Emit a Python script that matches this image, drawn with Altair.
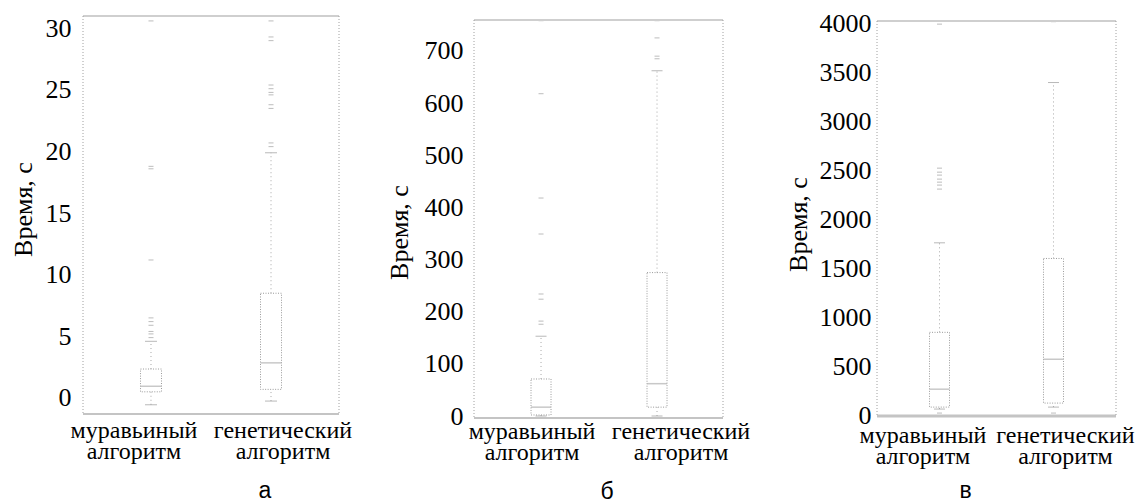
import altair as alt
import pandas as pd

SERIF = "Liberation Serif"
SANS = "Liberation Sans"

categories = ["муравьиный алгоритм", "генетический алгоритм"]

# panel а
a_low = [-0.55, -0.25]
a_q1 = [0.5, 0.7]
a_med = [0.95, 2.85]
a_q3 = [2.35, 8.5]
a_high = [4.6, 19.9]
a_out_ant = [4.9, 5.2, 5.4, 5.9, 6.2, 6.5, 11.2, 18.6, 18.8, 30.6]
a_out_gen = [20.4, 20.7, 23.5, 23.8, 24.6, 24.8, 25.1, 25.4, 29.0, 29.3, 30.6]
a_ticks = [0, 5, 10, 15, 20, 25, 30]

# panel б
b_low = [0, 0]
b_q1 = [2, 17]
b_med = [17, 62]
b_q3 = [71, 275]
b_high = [153, 662]
b_out_ant = [176, 182, 224, 234, 349, 418, 618, 758]
b_out_gen = [685, 690, 725, 758]
b_ticks = [0, 100, 200, 300, 400, 500, 600, 700]

# panel в
c_low = [61, 81]
c_q1 = [81, 122]
c_med = [264, 570]
c_q3 = [845, 1600]
c_high = [1760, 3398]
c_out_ant = [20, 2309, 2350, 2380, 2411, 2452, 2482, 2523, 3995]
c_out_gen = [20, 4020]
c_ticks = [0, 500, 1000, 1500, 2000, 2500, 3000, 3500, 4000]


def panel(low, q1, med, q3, high, out_ant, out_gen, ticks, domain, W, FW, H, ftop,
          pi, po, align, box_w, cap_w, label_off, label_pad, ylabel_pad, title_x, title_y,
          letter, letter_dx, letter_off, bottom_w):
    box_df = pd.DataFrame({"cat": categories, "low": low, "q1": q1, "med": med,
                           "q3": q3, "high": high})
    out_df = pd.DataFrame({"cat": [categories[0]] * len(out_ant) + [categories[1]] * len(out_gen),
                           "v": out_ant + out_gen})
    x = alt.X("cat:N", sort=categories,
              scale=alt.Scale(domain=categories, paddingInner=pi, paddingOuter=po, align=align),
              axis=alt.Axis(title=None, labelExpr="split(datum.label, ' ')",
                            labelFont=SERIF, labelFontSize=24, labelColor="black",
                            labelAngle=0, ticks=False, domain=False, grid=False,
                            labelPadding=label_pad, labelLineHeight=21,
                            labelOffset={"condition": {"test": f"datum.value === '{categories[0]}'",
                                                       "value": label_off[0]},
                                         "value": label_off[1]}))
    yscale = alt.Scale(domain=domain, nice=False, zero=False)
    yaxis = alt.Axis(values=ticks, title="Время, с", titleFont=SERIF, titleFontSize=26,
                     titleFontWeight="normal", titleColor="black", titleX=title_x,
                     titleY=title_y, titleAngle=270, titleAlign="center",
                     titleBaseline="middle", labelFont=SERIF, labelFontSize=26,
                     labelColor="black", labelPadding=ylabel_pad, ticks=False,
                     domain=False, grid=False, format="d")
    base = alt.Chart(box_df)
    box = base.mark_bar(fill="white", fillOpacity=0, stroke="#9a9a9a", strokeWidth=1,
                        strokeDash=[1, 1.5]).encode(
        x=x, y=alt.Y("q1:Q", scale=yscale, axis=yaxis), y2="q3:Q")
    wh_up = base.mark_rule(color="#a8a8a8", strokeDash=[1, 3]).encode(
        x="cat:N", y="q3:Q", y2="high:Q")
    wh_lo = base.mark_rule(color="#a8a8a8", strokeDash=[1, 3]).encode(
        x="cat:N", y="low:Q", y2="q1:Q")
    cap_hi = base.mark_tick(color="#9a9a9a", thickness=1, size=cap_w).encode(
        x="cat:N", y="high:Q")
    cap_lo = base.mark_tick(color="#9a9a9a", thickness=1, size=cap_w).encode(
        x="cat:N", y="low:Q")
    median = base.mark_tick(color="#b0b0b0", thickness=1.5, size=box_w).encode(
        x="cat:N", y="med:Q")
    outl = alt.Chart(out_df).mark_tick(color="#a0a0a0", thickness=1, size=5).encode(
        x="cat:N", y="v:Q")
    one = alt.Data(values=[{"k": 1}])
    f_top = alt.Chart(one).mark_rule(color="#cfcfcf", strokeWidth=2).encode(
        x=alt.value(0), x2=alt.value(FW), y=alt.value(ftop))
    f_bot = alt.Chart(one).mark_rule(color="#c4c4c4", strokeWidth=bottom_w).encode(
        x=alt.value(0), x2=alt.value(FW), y=alt.value(H))
    f_left = alt.Chart(one).mark_rule(color="#a0a0a0", strokeDash=[1, 2]).encode(
        x=alt.value(0), y=alt.value(ftop), y2=alt.value(H))
    f_right = alt.Chart(one).mark_rule(color="#a0a0a0", strokeDash=[1, 2]).encode(
        x=alt.value(FW), y=alt.value(ftop), y2=alt.value(H))
    return alt.layer(box, wh_up, wh_lo, cap_hi, cap_lo, median, outl,
                     f_top, f_bot, f_left, f_right).properties(
        width=W, height=H,
        title=alt.TitleParams(letter, orient="bottom", font=SANS, fontSize=23,
                              fontWeight="normal", color="black", anchor="middle",
                              dx=letter_dx, offset=letter_off))


pa = panel(a_low, a_q1, a_med, a_q3, a_high, a_out_ant, a_out_gen, a_ticks,
           [-1.3, 31.0], 256, 256, 398, 0, 0.825, 0.479, 0.5, 21, 12, (-17, 12), 4, 12,
           -60, 193, "а", 54, 17, 2)
pb = panel(b_low, b_q1, b_med, b_q3, b_high, b_out_ant, b_out_gen, b_ticks,
           [-3.8, 767], 268, 249, 402, 4, 0.8276, 0.569, 0.432, 20, 11, (-9, 24), 1, 11,
           -75, 216, "б", -1, 17, 2)
pc = panel(c_low, c_q1, c_med, c_q3, c_high, c_out_ant, c_out_gen, c_ticks,
           [-10, 4078], 239, 239, 400, 5, 0.8246, 0.4606, 0.5, 20, 11, (-16.5, 12), 7, 6,
           -79, 208, "в", -31, 12, 3)

chart = alt.hconcat(pa, pb, pc, spacing=135, bounds="flush").configure_view(
    stroke=None).properties(padding={"left": 2, "top": 2, "right": 0, "bottom": 0})

chart.save("out.html", embed_options={"renderer": "svg", "actions": False})
